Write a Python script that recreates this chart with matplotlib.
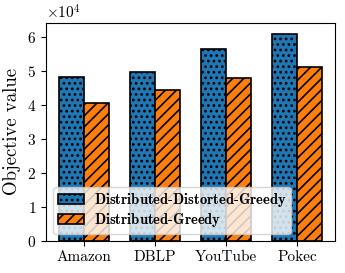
import numpy as np
import matplotlib
matplotlib.use('Agg')
import matplotlib.pyplot as plt

plt.rcParams['font.family'] = 'serif'
plt.rcParams['font.serif'] = ['cmr10']
plt.rcParams['mathtext.fontset'] = 'cm'
plt.rcParams['axes.formatter.use_mathtext'] = True
plt.rcParams['hatch.linewidth'] = 1.2

datasets = ['Amazon', 'DBLP', 'YouTube', 'Pokec']
distorted = [48200, 49600, 56400, 60700]
greedy = [40600, 44200, 47800, 51000]

x = np.arange(len(datasets))
w = 0.35

fig = plt.figure(figsize=(3.45, 2.73), dpi=100)
ax = fig.add_axes([0.133, 0.117, 0.838, 0.799])

ax.bar(x - w/2, distorted, w, color='#1f77b4', edgecolor='black', linewidth=1.2,
       hatch='...', label=r'$\mathbf{Distributed\text{-}Distorted\text{-}Greedy}$')
ax.bar(x + w/2, greedy, w, color='#ff7f0e', edgecolor='black', linewidth=1.2,
       hatch='///', label=r'$\mathbf{Distributed\text{-}Greedy}$')

ax.set_xticks(x)
ax.set_xticklabels(datasets, fontsize=11)
ax.tick_params(axis='y', labelsize=11)
ax.set_ylim(0, 64000)
ax.set_yticks([0, 10000, 20000, 30000, 40000, 50000, 60000])
ax.ticklabel_format(axis='y', style='sci', scilimits=(4, 4))
ax.yaxis.get_offset_text().set_fontsize(11)
ax.set_ylabel('Objective value', fontsize=13.5)

ax.legend(loc='lower left', fontsize=10.5, framealpha=0.8, handlelength=1.8,
          handletextpad=0.7, labelspacing=0.15, borderpad=0.3)

fig.savefig('out.png', dpi=100)
